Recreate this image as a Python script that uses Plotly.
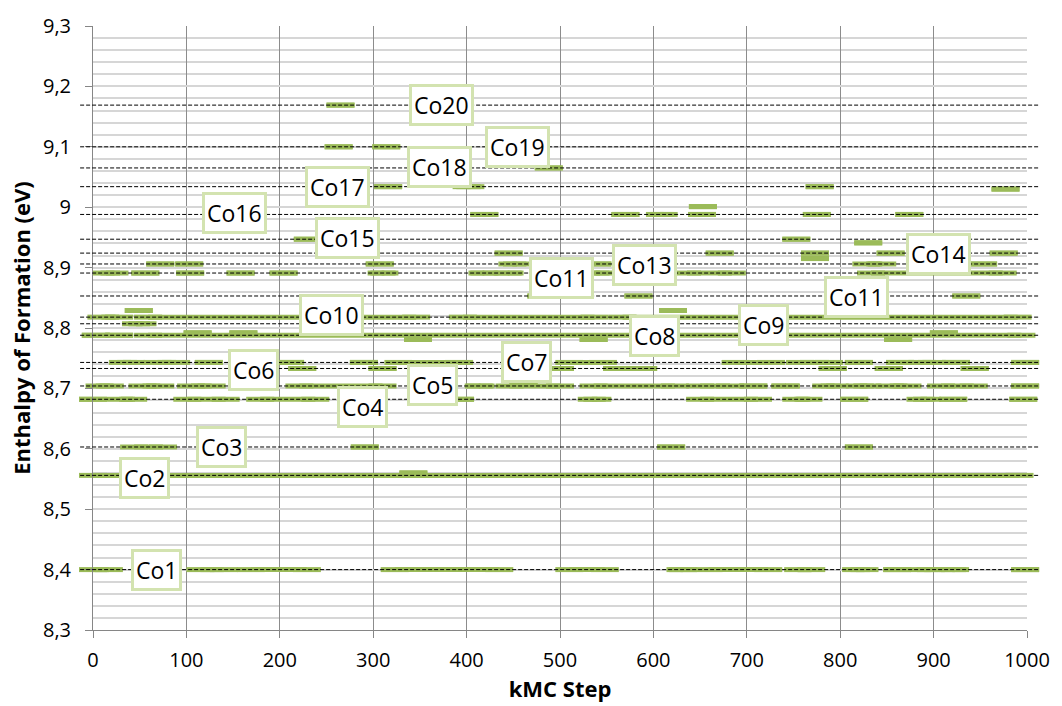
import plotly.graph_objects as go

GREEN = "#9bbb59"

# axis ticks
x_tick_vals = [0, 100, 200, 300, 400, 500, 600, 700, 800, 900, 1000]
y_tick_vals = [8.3, 8.4, 8.5, 8.6, 8.7, 8.8, 8.9, 9.0, 9.1, 9.2, 9.3]
y_tick_text = ["8,3", "8,4", "8,5", "8,6", "8,7", "8,8", "8,9", "9", "9,1", "9,2", "9,3"]

# reference energy levels (dashed lines)
level_energy = [8.400, 8.556, 8.603, 8.682, 8.704, 8.733, 8.743, 8.788, 8.807, 8.818,
                8.853, 8.891, 8.906, 8.924, 8.947, 8.988, 9.034, 9.065, 9.100, 9.169]

# configuration labels
label_text = ["Co1", "Co2", "Co3", "Co4", "Co5", "Co6", "Co7", "Co8", "Co9", "Co10",
              "Co11", "Co11", "Co13", "Co14", "Co15", "Co16", "Co17", "Co18", "Co19", "Co20"]
label_step = [67.6, 55, 138, 289, 364, 172, 464, 601, 718, 255.6,
              817, 502, 590.5, 905, 273, 152, 262, 371, 455, 373]
label_energy = [8.399, 8.551, 8.603, 8.670, 8.705, 8.730, 8.744, 8.786, 8.805, 8.822,
                8.852, 8.883, 8.905, 8.923, 8.949, 8.991, 9.034, 9.066, 9.099, 9.169]

# visited states: energy, first kMC step, last kMC step of each stay
run_energy = (
    [9.169]
    + [9.100] * 2
    + [9.065]
    + [9.034] * 3
    + [9.030]
    + [9.001]
    + [8.988] * 6
    + [8.947] * 2
    + [8.941]
    + [8.924] * 5
    + [8.915]
    + [8.906] * 7
    + [8.891] * 11
    + [8.853] * 3
    + [8.829] * 2
    + [8.818] * 4
    + [8.807]
    + [8.792] * 3
    + [8.788] * 3
    + [8.781] * 3
    + [8.743] * 14
    + [8.733] * 8
    + [8.710]
    + [8.704] * 15
    + [8.682] * 12
    + [8.603] * 4
    + [8.560]
    + [8.556]
    + [8.400] * 13
)
run_first = (
    [265]
    + [263, 314]
    + [488]
    + [316, 400, 778]
    + [977]
    + [653]
    + [419, 570, 607, 652, 775, 874]
    + [230, 753]
    + [830]
    + [445, 671, 773, 854, 975]
    + [773]
    + [72, 103, 307, 449, 540, 828, 953]
    + [14, 56, 104, 158, 204, 309, 417, 444, 538, 636, 833]
    + [480, 584, 935]
    + [49, 621]
    + [9, 59, 396, 567]
    + [46]
    + [112, 161, 911]
    + [3, 28, 59]
    + [348, 536, 862]
    + [32, 69, 124, 211, 290, 327, 510, 688, 757, 820, 864, 888, 924, 998]
    + [224, 310, 500, 561, 589, 792, 852, 944]
    + [461]
    + [7, 53, 105, 221, 413, 446, 536, 650, 707, 741, 785, 821, 853, 908, 998]
    + [0, 30, 101, 179, 393, 534, 650, 753, 815, 886, 921, 996]
    + [44, 291, 619, 820]
    + [343]
    + [0]
    + [0, 115, 169, 323, 510, 629, 659, 755, 817, 861, 890, 920, 998]
)
run_last = (
    [265]
    + [263, 314]
    + [488]
    + [316, 404, 778]
    + [977]
    + [653]
    + [419, 570, 611, 652, 775, 874]
    + [230, 753]
    + [830]
    + [445, 671, 773, 854, 975]
    + [773]
    + [72, 103, 307, 454, 540, 845, 953]
    + [23, 56, 104, 158, 204, 312, 419, 446, 543, 684, 974]
    + [480, 584, 935]
    + [49, 621]
    + [28, 346, 537, 990]
    + [53]
    + [112, 161, 911]
    + [3, 28, 994]
    + [348, 536, 862]
    + [41, 89, 124, 211, 290, 392, 546, 726, 788, 820, 864, 898, 924, 998]
    + [224, 310, 500, 561, 589, 792, 852, 944]
    + [461]
    + [18, 72, 127, 310, 415, 500, 623, 682, 707, 742, 794, 829, 872, 943, 998]
    + [0, 43, 142, 238, 393, 540, 712, 766, 815, 893, 921, 996]
    + [75, 291, 619, 820]
    + [343]
    + [992]
    + [17, 140, 229, 435, 548, 632, 723, 769, 826, 861, 897, 923, 998]
)

xs, ys = [], []
for e, a, b in zip(run_energy, run_first, run_last):
    xs += [a, b, None]
    ys += [e, e, None]

fig = go.Figure()
fig.add_trace(go.Scatter(
    x=xs, y=ys, mode="lines+markers",
    line=dict(color=GREEN, width=5),
    marker=dict(symbol="line-ew", size=20, color=GREEN,
                line=dict(color=GREEN, width=5)),
    cliponaxis=False, hoverinfo="skip", showlegend=False,
))

for e in level_energy:
    fig.add_shape(type="line", xref="paper", yref="y",
                  x0=-0.0138, x1=1.0138, y0=e, y1=e,
                  line=dict(color="black", width=1, dash="4px,2px"),
                  layer="above")

for t, sx, ey in zip(label_text, label_step, label_energy):
    fig.add_annotation(x=sx, y=ey, xref="x", yref="y", text=t, showarrow=False,
                       font=dict(family="Open Sans", size=23, color="black"),
                       bgcolor="white", bordercolor="#d3e3b0", borderwidth=3,
                       borderpad=2)

fig.update_layout(
    width=1062, height=706,
    margin=dict(l=93, r=30, t=18, b=74),
    plot_bgcolor="white", paper_bgcolor="white",
    font=dict(family="Open Sans", color="black"),
    showlegend=False,
    xaxis=dict(
        range=[0, 1000], tickmode="array", tickvals=x_tick_vals,
        ticks="outside", ticklen=7, tickcolor="#868686",
        showline=True, linecolor="#868686", linewidth=1,
        showgrid=True, gridcolor="#8c8c8c", gridwidth=1, zeroline=False,
        tickfont=dict(size=20, color="black"), ticklabelstandoff=5,
        title=dict(text="<b>kMC Step</b>", font=dict(size=22, color="black"), standoff=6),
    ),
    yaxis=dict(
        range=[8.3, 9.3], tickmode="array", tickvals=y_tick_vals, ticktext=y_tick_text,
        ticks="outside", ticklen=7, tickcolor="#868686",
        showline=True, linecolor="#868686", linewidth=1,
        showgrid=True, gridcolor="#d6d6d6", gridwidth=1.5, zeroline=False,
        minor=dict(dtick=0.02, showgrid=True, gridcolor="#d6d6d6", gridwidth=1.5, ticks=""),
        tickfont=dict(size=20, color="black"), ticklabelstandoff=10,
        title=dict(text="<b>Enthalpy of Formation (eV)</b>", font=dict(size=22, color="black"), standoff=6),
    ),
)

fig.write_html("out.html")
